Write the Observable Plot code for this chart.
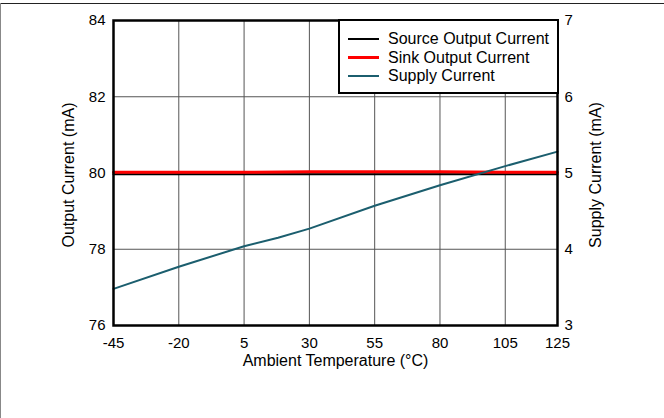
<!DOCTYPE html>
<html>
<head>
<meta charset="utf-8">
<script src="https://cdn.jsdelivr.net/npm/d3@7"></script>
<script src="https://cdn.jsdelivr.net/npm/@observablehq/plot@0.6"></script>
<style>
  html, body { margin: 0; padding: 0; background: white; }
  #wrap { position: relative; width: 664px; height: 418px; overflow: hidden; font-family: "Liberation Sans", Arial, sans-serif; }
  #wrap svg { position: absolute; left: 0; top: 0; }
  #wrap svg [aria-label$="tick label"] { font-size: 15px; }
  .bt { position: absolute; left: 0; top: 3px; width: 664px; height: 0; border-top: 1px solid #222; }
  .bl { position: absolute; left: 0; top: 3px; width: 0; height: 415px; border-left: 1px solid #888; }
  #legend { position: absolute; left: 338px; top: 19px; width: 217px; height: 71px; border: 2px solid #000; background: white; box-sizing: content-box; }
  .row { position: absolute; left: 0; height: 18px; display: flex; align-items: center; font-size: 16px; color: #000; white-space: nowrap; }
  .sw { width: 31px; margin-left: 8px; margin-right: 9px; }
</style>
</head>
<body>
<div id="wrap"></div>
<script>
// ---- data ----
const temps = [-45, -20, 5, 18, 30, 55, 80, 105, 125];
const supplyCurrent = [3.48, 3.77, 4.04, 4.15, 4.27, 4.57, 4.84, 5.09, 5.28];
const sourceTemps = [-45, -20, 5, 30, 55, 80, 105, 125];
const sourceCurrent = [79.97, 79.97, 79.97, 79.97, 79.97, 79.97, 79.97, 79.97];
const sinkCurrent = [80.02, 80.02, 80.02, 80.03, 80.03, 80.03, 80.02, 80.02];
const xTicks = [-45, -20, 5, 30, 55, 80, 105, 125];
const yTicks = [76, 78, 80, 82, 84];
const y2Ticks = [3, 4, 5, 6, 7];
const seriesNames = ["Source Output Current", "Sink Output Current", "Supply Current"];
const seriesColors = ["#000000", "#ff0000", "#1b5e6e"];

// map right axis (3..7 mA) onto left axis (76..84 mA)
const toLeft = v => 76 + (v - 3) * 2;
const toRight = v => (v - 76) / 2 + 3;

const sourceData = sourceTemps.map((t, i) => ({t, v: sourceCurrent[i]}));
const sinkData = sourceTemps.map((t, i) => ({t, v: sinkCurrent[i]}));
const supplyData = temps.map((t, i) => ({t, v: supplyCurrent[i]}));

const chart = Plot.plot({
  width: 664,
  height: 418,
  marginLeft: 113,
  marginRight: 107,
  marginTop: 20,
  marginBottom: 93,
  x: {domain: [-45, 125]},
  y: {domain: [76, 84]},
  style: {fontFamily: "'Liberation Sans', Arial, sans-serif", fontSize: "15px", color: "#000", background: "transparent"},
  marks: [
    Plot.gridX(xTicks, {stroke: "#555", strokeOpacity: 1, strokeWidth: 1}),
    Plot.gridY(yTicks, {stroke: "#555", strokeOpacity: 1, strokeWidth: 1}),
    Plot.line(sourceData, {x: "t", y: "v", stroke: seriesColors[0], strokeWidth: 2}),
    Plot.line(sinkData, {x: "t", y: "v", stroke: seriesColors[1], strokeWidth: 3}),
    Plot.line(supplyData, {x: "t", y: d => toLeft(d.v), stroke: seriesColors[2], strokeWidth: 2}),
    Plot.frame({stroke: "#000", strokeWidth: 2.5}),
    Plot.axisX(xTicks, {tickSize: 0, tickPadding: 12, label: null, fontSize: 15, tickFormat: d => String(d)}),
    Plot.axisY(yTicks, {anchor: "left", tickSize: 0, tickPadding: 8, label: null, fontSize: 15, tickFormat: d => String(d)}),
    Plot.axisY(y2Ticks.map(toLeft), {anchor: "right", tickSize: 0, tickPadding: 7, label: null, fontSize: 15, tickFormat: v => String(toRight(v))}),
    Plot.text(["Ambient Temperature (°C)"], {frameAnchor: "bottom", dy: 35, lineAnchor: "middle", textAnchor: "middle", fontSize: 16, fill: "#000"}),
    Plot.text(["Output Current (mA)"], {frameAnchor: "left", dx: -45, dy: 2, rotate: -90, textAnchor: "middle", lineAnchor: "middle", fontSize: 16, fill: "#000"}),
    Plot.text(["Supply Current (mA)"], {frameAnchor: "right", dx: 38, dy: 2, rotate: -90, textAnchor: "middle", lineAnchor: "middle", fontSize: 16, fill: "#000"})
  ]
});

const wrap = document.getElementById("wrap");
wrap.appendChild(chart);

const bt = document.createElement("div"); bt.className = "bt"; wrap.appendChild(bt);
const bl = document.createElement("div"); bl.className = "bl"; wrap.appendChild(bl);

const legend = document.createElement("div");
legend.id = "legend";
seriesNames.forEach((name, i) => {
  const row = document.createElement("div");
  row.className = "row";
  row.style.top = (9 + i * 18.5) + "px";
  const sw = document.createElement("span");
  sw.className = "sw";
  sw.style.borderTop = (i === 1 ? 3 : 2) + "px solid " + seriesColors[i];
  row.appendChild(sw);
  const tx = document.createElement("span");
  tx.textContent = name;
  row.appendChild(tx);
  legend.appendChild(row);
});
wrap.appendChild(legend);
</script>
</body>
</html>
